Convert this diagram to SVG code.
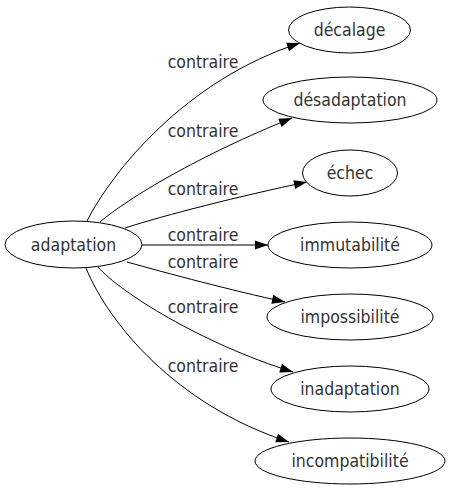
<svg xmlns="http://www.w3.org/2000/svg" width="449" height="491" viewBox="0 0 449 491">
<style>
.node ellipse{fill:#ffffff;stroke:#000000;stroke-width:1}
.node text,.lbl{font-family:"DejaVu Sans Condensed","DejaVu Sans",sans-serif;font-stretch:condensed;font-size:17.5px;fill:#333333;text-anchor:middle}
.edge path{fill:none;stroke:#000000;stroke-width:1}
</style>
<defs>
<marker id="arr" markerUnits="userSpaceOnUse" markerWidth="14" markerHeight="10" refX="13" refY="4.5" orient="auto" overflow="visible">
<path d="M0,0 L13,4.5 L0,9 Z" fill="#000000"/>
</marker>
</defs>
<rect width="449" height="491" fill="#ffffff"/>
<g id="edges">
<g class="edge" id="e1"><path d="M87,221 C112,172 185,80 300,43" marker-end="url(#arr)"/><text class="lbl" x="203" y="68">contraire</text></g>
<g class="edge" id="e2"><path d="M100,222 C128,198 200,155 292,118" marker-end="url(#arr)"/><text class="lbl" x="203" y="137">contraire</text></g>
<g class="edge" id="e3"><path d="M125,228 C165,215 240,196 307,182" marker-end="url(#arr)"/><text class="lbl" x="203" y="195">contraire</text></g>
<g class="edge" id="e4"><path d="M142,245 L268,245" marker-end="url(#arr)"/><text class="lbl" x="203" y="241">contraire</text></g>
<g class="edge" id="e5"><path d="M127,262 C170,274 230,290 285,302" marker-end="url(#arr)"/><text class="lbl" x="203" y="268">contraire</text></g>
<g class="edge" id="e6"><path d="M98,267 C120,292 200,343 293,372" marker-end="url(#arr)"/><text class="lbl" x="203" y="313">contraire</text></g>
<g class="edge" id="e7"><path d="M86,268 C108,322 175,405 289,442" marker-end="url(#arr)"/><text class="lbl" x="203" y="372">contraire</text></g>
</g>
<g class="node" id="n_adaptation"><ellipse cx="73.5" cy="244.5" rx="68.5" ry="23.5"/><text x="73.5" y="251">adaptation</text></g>
<g class="node" id="n_decalage"><ellipse cx="349.5" cy="30" rx="61" ry="23"/><text x="349.5" y="36">décalage</text></g>
<g class="node" id="n_desadaptation"><ellipse cx="350" cy="100" rx="87" ry="23"/><text x="350" y="106">désadaptation</text></g>
<g class="node" id="n_echec"><ellipse cx="350" cy="173" rx="47.5" ry="23"/><text x="350" y="179">échec</text></g>
<g class="node" id="n_immutabilite"><ellipse cx="350" cy="245" rx="82" ry="23"/><text x="350" y="251">immutabilité</text></g>
<g class="node" id="n_impossibilite"><ellipse cx="350" cy="317" rx="83" ry="23"/><text x="350" y="323">impossibilité</text></g>
<g class="node" id="n_inadaptation"><ellipse cx="350" cy="389" rx="79" ry="23"/><text x="350" y="395">inadaptation</text></g>
<g class="node" id="n_incompatibilite"><ellipse cx="350" cy="461" rx="95" ry="23"/><text x="350" y="467">incompatibilité</text></g>
</svg>
